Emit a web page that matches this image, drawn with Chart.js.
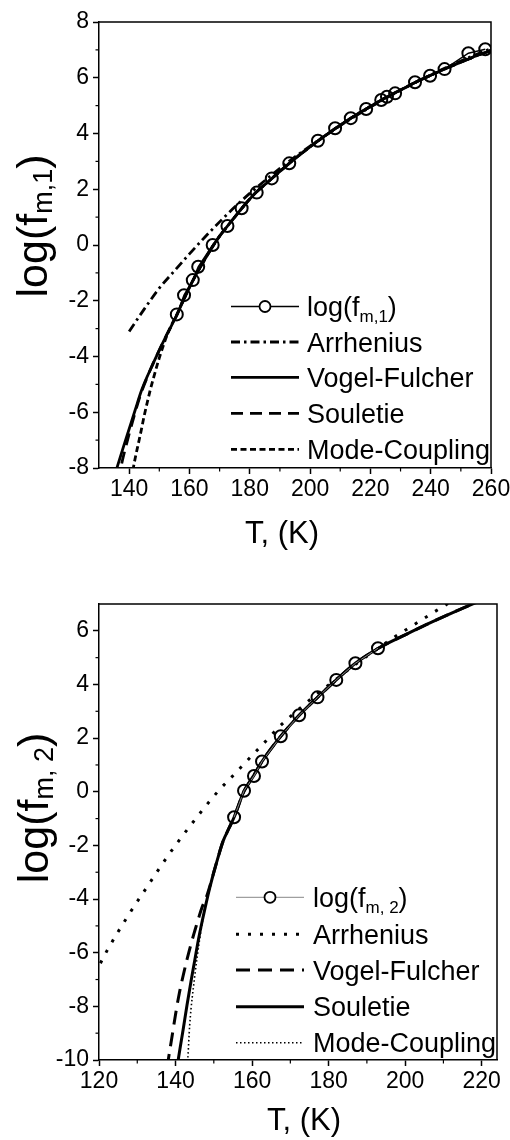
<!DOCTYPE html>
<html><head><meta charset="utf-8">
<script src="https://cdn.jsdelivr.net/npm/chart.js@4.4.0/dist/chart.umd.min.js"></script>
<style>
html,body{margin:0;padding:0;background:#fff;width:510px;height:1140px;overflow:hidden;position:relative}
canvas{position:absolute;left:0}
</style>
</head><body>
<canvas id="c1" width="540" height="570" style="top:0"></canvas>
<canvas id="c2" width="540" height="570" style="top:570px"></canvas>
<script>
// ---------- TOP PANEL DATA ----------
const top_xTicks = [140,160,180,200,220,240,260];
const top_xMinor = [150,170,190,210,230,250];
const top_yTicks = [-8,-6,-4,-2,0,2,4,6,8];
const top_yMinor = [-7,-5,-3,-1,1,3,5,7];

const top_T    = [155.8,158.2,161.1,162.9,167.7,172.6,177.3,182.3,187.3,193.1,202.6,208.3,213.5,218.6,223.6,225.5,228.2,234.8,239.8,244.6,252.5,258.1];
const top_logf = [-2.49,-1.80,-1.26,-0.78,0.00,0.68,1.32,1.88,2.39,2.93,3.74,4.19,4.55,4.88,5.20,5.32,5.44,5.84,6.07,6.31,6.88,7.02];

const top_arrT = [140,145,150,155,160,165,170,175,180,190,200,210,220,230,240,250,260];
const top_arrY = [-3.1,-2.3,-1.55,-0.93,-0.32,0.27,0.83,1.36,1.85,2.75,3.55,4.28,4.95,5.55,6.1,6.6,7.05];

const top_vfT = [135,136,138,140,142,144,146,148,150,152,154,156,158,160,162,164,166,168,170,172,175,178,182,186,190,195,200,205,210,215,220,225,230,235,240,245,250,255,260];
const top_vfY = [-8.35,-7.98,-7.28,-6.6,-5.92,-5.25,-4.72,-4.24,-3.77,-3.32,-2.9,-2.47,-1.98,-1.52,-1.1,-0.72,-0.35,0.0,0.32,0.6,1.0,1.4,1.88,2.26,2.64,3.1,3.52,3.92,4.3,4.65,4.97,5.28,5.56,5.84,6.09,6.33,6.56,6.78,6.98];

const top_soT = [136,137.2,138,140,142,144,146,148,150,152,154,156,158,160,162,164,166,168,170,172,175,178,182,186,190,195,200,205,210,215,220,225,230,235,240,245,250,255,260];
const top_soY = [-8.5,-8.0,-7.62,-6.78,-6.0,-5.3,-4.74,-4.24,-3.77,-3.32,-2.9,-2.47,-1.98,-1.52,-1.1,-0.72,-0.35,0.0,0.32,0.6,1.0,1.4,1.88,2.26,2.64,3.1,3.52,3.92,4.3,4.65,4.97,5.28,5.56,5.84,6.09,6.33,6.56,6.78,6.98];

const top_mcT = [141.2,142,143,144,145,146,147,148,150,152,154,156,158,160,162,164,166,168,170,172,175,178,182,186,190,195,200,205,210,215,220,225,230,235,240,245,250,255,260];
const top_mcY = [-8.1,-7.65,-7.15,-6.65,-6.12,-5.65,-5.2,-4.8,-4.05,-3.4,-2.88,-2.45,-1.98,-1.52,-1.1,-0.72,-0.35,0.0,0.32,0.6,1.0,1.4,1.88,2.26,2.64,3.1,3.52,3.92,4.3,4.65,4.97,5.28,5.56,5.84,6.09,6.33,6.56,6.78,6.98];

// ---------- BOTTOM PANEL DATA ----------
const bot_xTicks = [120,140,160,180,200,220];
const bot_xMinor = [130,150,170,190,210];
const bot_yTicks = [-10,-8,-6,-4,-2,0,2,4,6];
const bot_yMinor = [-9,-7,-5,-3,-1,1,3,5];

const bot_T    = [155.3,157.9,160.5,162.6,167.5,172.3,177.1,182.0,187.0,192.9];
const bot_logf = [-0.95,0.04,0.59,1.13,2.07,2.85,3.52,4.17,4.79,5.35];

const bot_arrT = [119,120,122,127.2,132.4,138.1,144.2,151,155,159,163,167.2,172,177,182,187,192,197,202,207,211,213];
const bot_arrY = [-6.8,-6.5,-5.95,-4.71,-3.58,-2.37,-1.2,0.0,0.6,1.2,1.8,2.44,3.05,3.65,4.2,4.75,5.25,5.75,6.2,6.65,7.0,7.17];

const bot_vfT = [137.8,138.1,139,140,141,142,143,144,145,146,147,148,149,150,151,152.4,154,155.3,157.9,160.5,162.6,167.5,172.3,177.1,182,187,193,200,205.5,212,218,222];
const bot_vfY = [-10.3,-10,-9.2,-8.3,-7.5,-6.85,-6.25,-5.7,-5.2,-4.72,-4.28,-3.95,-3.5,-3.0,-2.5,-1.85,-1.35,-0.95,0.02,0.62,1.13,2.07,2.85,3.52,4.17,4.79,5.35,5.85,6.23,6.65,7.02,7.27];

const bot_soT = [140.5,140.7,142,143,144,145,146,147,148,149,150,151,152.4,154,155.3,157.9,160.5,162.6,167.5,172.3,177.1,182,187,193,200,205.5,212,218,222];
const bot_soY = [-10.2,-10,-8.85,-7.95,-7.1,-6.3,-5.5,-4.8,-4.15,-3.55,-3.0,-2.5,-1.85,-1.35,-0.95,0.02,0.62,1.13,2.07,2.85,3.52,4.17,4.79,5.35,5.85,6.23,6.65,7.02,7.27];

const bot_mcT = [143.0,143.2,143.7,145,146.3,148,150,152.4,154,155.3,157.9,160.5,162.6,167.5,172.3,177.1,182,187,193,200,205.5,212,218,222];
const bot_mcY = [-10.5,-10,-8.7,-6.9,-5.5,-4.1,-3.0,-1.85,-1.35,-0.95,0.02,0.62,1.13,2.07,2.85,3.52,4.17,4.79,5.35,5.85,6.23,6.65,7.02,7.27];

// ---------- helpers ----------
const FONT = '"Liberation Sans", Arial, Helvetica, sans-serif';
const zip = (xs, ys) => xs.map((x, i) => ({x: x, y: ys[i]}));

function curve(label, xs, ys, dash, width) {
  return {label: label, data: zip(xs, ys), borderColor: '#000', borderWidth: width,
    borderDash: dash, pointRadius: 0, fill: false, cubicInterpolationMode: 'monotone', borderCapStyle: 'butt'};
}
function measured(label, xs, ys, lineW, lineColor) {
  return {label: label, data: zip(xs, ys), borderColor: lineColor, borderWidth: lineW,
    pointRadius: 6, pointBorderWidth: 2, pointBorderColor: '#000',
    pointBackgroundColor: 'rgba(0,0,0,0)', pointStyle: 'circle', fill: false, tension: 0};
}
function richWidth(ctx, parts) {
  let w = 0;
  parts.forEach(p => { ctx.font = p.size + 'px ' + FONT; w += ctx.measureText(p.t).width; });
  return w;
}
function drawRich(ctx, parts, x, y) {
  let cx = x;
  parts.forEach(p => {
    ctx.font = p.size + 'px ' + FONT;
    ctx.fillText(p.t, cx, y + (p.dy || 0));
    cx += ctx.measureText(p.t).width;
  });
}

function decoPlugin(cfg) {
  return {
    id: 'deco',
    afterDraw(chart) {
      const ctx = chart.ctx, a = chart.chartArea, xs = chart.scales.x, ys = chart.scales.y;
      ctx.save();
      ctx.strokeStyle = '#000'; ctx.fillStyle = '#000';
      ctx.lineWidth = 1.5; ctx.setLineDash([]);
      ctx.beginPath(); ctx.moveTo(a.left, a.top); ctx.lineTo(a.right, a.top); ctx.lineTo(a.right, a.bottom); ctx.stroke();
      ctx.lineWidth = 1.2;
      cfg.xMinor.forEach(v => { const p = xs.getPixelForValue(v); ctx.beginPath(); ctx.moveTo(p, a.bottom); ctx.lineTo(p, a.bottom + 3.5); ctx.stroke(); });
      cfg.yMinor.forEach(v => { const p = ys.getPixelForValue(v); ctx.beginPath(); ctx.moveTo(a.left, p); ctx.lineTo(a.left - 3.5, p); ctx.stroke(); });
      ctx.textAlign = 'left'; ctx.textBaseline = 'alphabetic';
      const xt = [{t: 'T, (K)', size: 31}];
      drawRich(ctx, xt, cfg.xTitleX - richWidth(ctx, xt) / 2, cfg.xTitleY);
      ctx.save();
      ctx.translate(cfg.yTitleX, cfg.yTitleY);
      ctx.rotate(-Math.PI / 2);
      drawRich(ctx, cfg.yTitle, -richWidth(ctx, cfg.yTitle) / 2, 0);
      ctx.restore();
      const L = cfg.legend;
      chart.data.datasets.forEach((ds, i) => {
        const y = L.rows[i];
        ctx.save();
        ctx.strokeStyle = ds.borderColor; ctx.lineWidth = ds.borderWidth;
        ctx.setLineDash(ds.borderDash || []);
        ctx.lineCap = 'butt';
        ctx.beginPath(); ctx.moveTo(L.x1, y); ctx.lineTo(L.x2, y); ctx.stroke();
        if (ds.pointRadius > 0) {
          ctx.setLineDash([]);
          ctx.fillStyle = '#fff'; ctx.strokeStyle = '#000'; ctx.lineWidth = 1.8;
          ctx.beginPath(); ctx.arc((L.x1 + L.x2) / 2, y, 5.5, 0, Math.PI * 2); ctx.fill(); ctx.stroke();
        }
        ctx.restore();
        ctx.fillStyle = '#000';
        drawRich(ctx, L.labels[i], L.tx, y + 9.5);
      });
      ctx.restore();
    }
  };
}

function axes(xmin, xmax, xticks, ymin, ymax, yticks, xh) {
  const common = {
    grid: {drawOnChartArea: false, drawTicks: true, tickLength: 6, tickColor: '#000', tickWidth: 1.5},
    border: {display: true, color: '#000', width: 1.5},
  };
  return {
    x: Object.assign({type: 'linear', min: xmin, max: xmax,
      afterBuildTicks: s => { s.ticks = xticks.map(v => ({value: v})); },
      afterFit: s => { s.height = xh; },
      ticks: {color: '#000', font: {family: FONT, size: 23}, padding: 2, maxRotation: 0, autoSkip: false}}, common),
    y: Object.assign({type: 'linear', min: ymin, max: ymax,
      afterBuildTicks: s => { s.ticks = yticks.map(v => ({value: v})); },
      afterFit: s => { s.width = 99; },
      ticks: {color: '#000', font: {family: FONT, size: 23}, padding: 4, autoSkip: false}}, common)
  };
}

const baseOpts = {responsive: false, animation: false, devicePixelRatio: 1,
  plugins: {legend: {display: false}, tooltip: {enabled: false}}};

// ---------- TOP CHART ----------
new Chart(document.getElementById('c1'), {
  type: 'line',
  data: {datasets: [
    measured('log(f_m,1)', top_T, top_logf, 1.5, '#000'),
    curve('Arrhenius', top_arrT, top_arrY, [9, 4, 2.5, 4], 2.8),
    curve('Vogel-Fulcher', top_vfT, top_vfY, [], 2.8),
    curve('Souletie', top_soT, top_soY, [12, 7], 2.8),
    curve('Mode-Coupling', top_mcT, top_mcY, [6, 3.5], 2.8)
  ]},
  options: Object.assign({}, baseOpts, {
    layout: {padding: {top: 22, right: 49, left: 0, bottom: 0}},
    scales: axes(130, 260, top_xTicks, -8, 8, top_yTicks, 102)
  }),
  plugins: [decoPlugin({
    xMinor: top_xMinor, yMinor: top_yMinor,
    xTitleX: 282, xTitleY: 543,
    yTitleX: 47, yTitleY: 226,
    yTitle: [{t: 'log(f', size: 43}, {t: 'm,1', size: 27, dy: 5}, {t: ')', size: 43}],
    legend: {x1: 231, x2: 299, tx: 307, rows: [306.5, 342, 377.3, 413.3, 449.3],
      labels: [
        [{t: 'log(f', size: 27}, {t: 'm,1', size: 17, dy: 6}, {t: ')', size: 27}],
        [{t: 'Arrhenius', size: 27}],
        [{t: 'Vogel-Fulcher', size: 27}],
        [{t: 'Souletie', size: 27}],
        [{t: 'Mode-Coupling', size: 27}]
      ]}
  })]
});

// ---------- BOTTOM CHART ----------
new Chart(document.getElementById('c2'), {
  type: 'line',
  data: {datasets: [
    measured('log(f_m,2)', bot_T, bot_logf, 1, '#888'),
    curve('Arrhenius', bot_arrT, bot_arrY, [3, 9], 3),
    curve('Vogel-Fulcher', bot_vfT, bot_vfY, [14, 8], 3),
    curve('Souletie', bot_soT, bot_soY, [], 3),
    curve('Mode-Coupling', bot_mcT, bot_mcY, [1.5, 2.5], 1.6)
  ]},
  options: Object.assign({}, baseOpts, {
    layout: {padding: {top: 34, right: 43, left: 0, bottom: 0}},
    scales: axes(120, 224, bot_xTicks, -10, 7, bot_yTicks, 80)
  }),
  plugins: [decoPlugin({
    xMinor: bot_xMinor, yMinor: bot_yMinor,
    xTitleX: 304, xTitleY: 560,
    yTitleX: 48, yTitleY: 238,
    yTitle: [{t: 'log(f', size: 43}, {t: 'm, 2', size: 27, dy: 5}, {t: ')', size: 43}],
    legend: {x1: 236, x2: 304, tx: 313, rows: [327.3, 364.3, 400, 436.7, 472.7],
      labels: [
        [{t: 'log(f', size: 27}, {t: 'm, 2', size: 17, dy: 6}, {t: ')', size: 27}],
        [{t: 'Arrhenius', size: 27}],
        [{t: 'Vogel-Fulcher', size: 27}],
        [{t: 'Souletie', size: 27}],
        [{t: 'Mode-Coupling', size: 27}]
      ]}
  })]
});
</script>
</body></html>
